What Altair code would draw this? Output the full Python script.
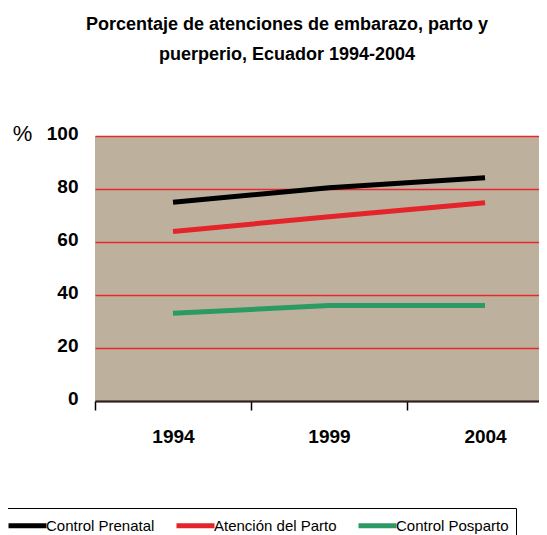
import altair as alt
import pandas as pd

years = [1994, 1999, 2004]
series = ["Control Prenatal", "Atención del Parto", "Control Posparto"]
prenatal = [75.0, 80.5, 84.2]
parto = [64.0, 69.5, 74.8]
posparto = [33.1, 36.0, 36.0]
colors = ["#000000", "#E3242B", "#2B9A63"]
y_ticks = [0, 20, 40, 60, 80, 100]
x_labels = [1994, 1999, 2004]
x_bounds = [1991.5, 1996.5, 2001.5]
title_lines = ["Porcentaje de atenciones de embarazo, parto y", "puerperio, Ecuador 1994-2004"]

rows = []
for name, vals in zip(series, [prenatal, parto, posparto]):
    for yr, v in zip(years, vals):
        rows.append({"Año": yr, "Valor": v, "Serie": name})
df = pd.DataFrame(rows)

SANS = "Liberation Sans, Arial, sans-serif"

x_axis = alt.Axis(
    values=sorted(x_bounds + x_labels),
    labelExpr="datum.value % 1 == 0 ? format(datum.value, 'd') : ''",
    tickOpacity={"condition": {"test": "datum.value % 1 != 0", "value": 1}, "value": 0},
    grid=False,
    domainColor="#222222",
    domainWidth=2,
    tickColor="#000000",
    tickSize=9,
    tickWidth=1.5,
    labelFont=SANS,
    labelFontSize=19,
    labelFontWeight="bold",
    labelColor="#000000",
    labelBaseline="alphabetic",
    labelPadding=32,
    labelFlush=False,
    labelOverlap=False,
)

y_axis = alt.Axis(
    values=y_ticks,
    title="%",
    titleAngle=0,
    titleX=-73,
    titleY=-3,
    titleAlign="center",
    titleBaseline="middle",
    titleFont=SANS,
    titleFontSize=22,
    titleFontWeight="normal",
    titleColor="#000000",
    labelFont=SANS,
    labelFontSize=19,
    labelFontWeight="bold",
    labelColor="#000000",
    labelPadding=17,
    labelBaseline="middle",
    labelOffset=-3,
    ticks=False,
    domain=False,
    grid=True,
    gridColor="#E8282C",
    gridWidth=1.5,
)

legend = alt.Legend(
    orient="none",
    legendX=-92,
    legendY=372,
    direction="horizontal",
    symbolType="M-2.5,0H2.5",
    symbolSize=231,
    symbolStrokeWidth=5,
    symbolOffset=7,
    labelFont=SANS,
    labelFontSize=15,
    labelColor="#000000",
    labelOffset=8,
    columnPadding=11,
    padding=7,
    strokeColor="#000000",
    fillColor="#FFFFFF",
)

chart = (
    alt.Chart(df)
    .mark_line(strokeWidth=5, strokeCap="butt")
    .encode(
        x=alt.X("Año:Q", title="", axis=x_axis,
                scale=alt.Scale(domain=[1991.5, 2005.73], nice=False, zero=False)),
        y=alt.Y("Valor:Q", axis=y_axis, scale=alt.Scale(domain=[0, 100], nice=False)),
        color=alt.Color("Serie:N", title=None, sort=series,
                        scale=alt.Scale(domain=series, range=colors), legend=legend),
    )
    .properties(
        width=444,
        height=265,
        autosize="none",
        padding={"left": 87, "top": 128, "right": 0, "bottom": 134},
        title=alt.TitleParams(
            text=title_lines,
            font=SANS,
            fontSize=18,
            fontWeight="bold",
            color="#000000",
            anchor="middle",
            dx=-30,
            offset=58,
            lineHeight=30,
        ),
    )
    .configure_view(fill="#BDB19E", strokeWidth=0)
)

chart.save("out.html", embed_options={"renderer": "svg", "actions": False})
